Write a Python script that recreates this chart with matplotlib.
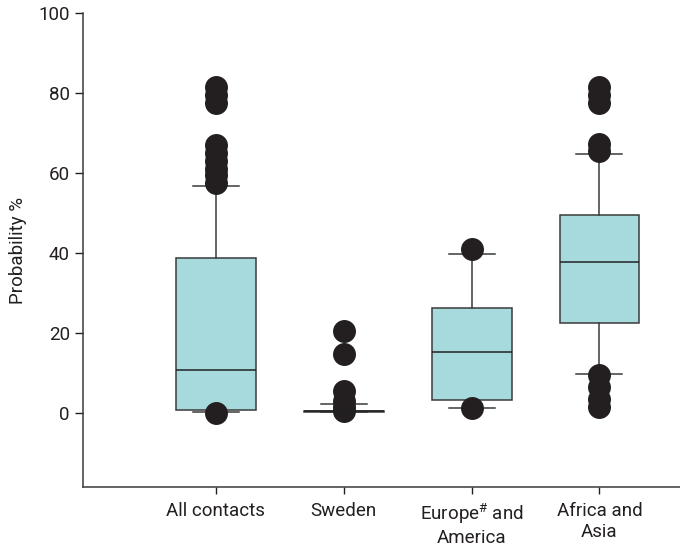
import matplotlib.pyplot as plt

plt.rcParams['font.family'] = ['Roboto', 'DejaVu Sans']
plt.rcParams['mathtext.default'] = 'regular'

labels = ['All contacts', 'Sweden', 'Europe$^{\\#}$ and\nAmerica', 'Africa and\nAsia']
q1 = [0.8, 0.3, 3.2, 22.5]
med = [10.7, 0.5, 15.3, 37.8]
q3 = [38.7, 0.6, 26.2, 49.6]
whislo = [0.2, 0.3, 1.3, 9.8]
whishi = [56.8, 2.4, 39.8, 64.8]
fliers = [
    [0.0, 57.5, 59.5, 61.0, 63.0, 65.0, 67.0, 77.5, 79.5, 81.5],
    [0.5, 1.5, 3.0, 5.5, 14.8, 20.5],
    [1.3, 41.0],
    [1.5, 3.5, 6.5, 9.5, 65.5, 67.3, 77.5, 79.5, 81.5],
]

stats = []
for i in range(len(labels)):
    stats.append(dict(label=labels[i], q1=q1[i], med=med[i], q3=q3[i],
                      whislo=whislo[i], whishi=whishi[i], fliers=fliers[i]))

fig = plt.figure(figsize=(6.8, 5.51), dpi=100)
ax = fig.add_axes([0.122, 0.116, 0.878, 0.86])

edge = '#3a3a3a'
ax.bxp(stats, positions=[1, 2, 3, 4], widths=0.625, capwidths=0.36,
       patch_artist=True,
       boxprops=dict(facecolor='#a6dadd', edgecolor=edge, linewidth=1.1),
       medianprops=dict(color='#222222', linewidth=1.1),
       whiskerprops=dict(color=edge, linewidth=1.1),
       capprops=dict(color=edge, linewidth=1.1),
       flierprops=dict(marker='o', markerfacecolor='#231f20',
                       markeredgecolor='#231f20', markersize=15.5))

ax.set_xlim(-0.04, 4.63)
ax.set_ylim(-18.5, 100)
ax.set_yticks([0, 20, 40, 60, 80, 100])
ax.set_ylabel('Probability %', fontsize=13.5, color='#231f20', labelpad=8)
ax.tick_params(axis='both', labelsize=13.5, colors='#231f20', direction='out')
ax.tick_params(axis='y', length=6, width=1)
ax.tick_params(axis='x', length=5, width=1, pad=6)
for s in ['top', 'right']:
    ax.spines[s].set_visible(False)
for s in ['left', 'bottom']:
    ax.spines[s].set_color(edge)
    ax.spines[s].set_linewidth(1.1)

fig.savefig('out.png', dpi=100)
